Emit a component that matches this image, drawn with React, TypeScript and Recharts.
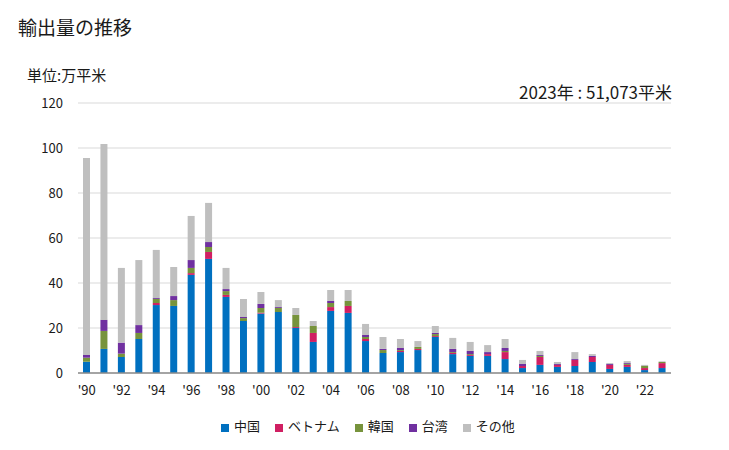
import React from 'react';
import { BarChart, Bar, XAxis, YAxis, CartesianGrid } from 'recharts';

const years = [1990,1991,1992,1993,1994,1995,1996,1997,1998,1999,2000,2001,2002,2003,2004,2005,2006,2007,2008,2009,2010,2011,2012,2013,2014,2015,2016,2017,2018,2019,2020,2021,2022,2023];
const china =   [5.0,10.7,7.1,15.1,30.2,29.8,43.6,50.7,33.8,23.1,26.4,27.1,20.0,13.8,27.6,26.7,14.2,8.9,9.3,10.2,16.0,8.4,7.6,7.6,6.2,2.2,3.6,2.7,3.1,4.9,1.8,2.7,1.3,2.2];
const vietnam = [0,0,0,0,0.9,0,0.8,3.1,0.9,0,0.4,0,0.4,4.0,1.7,3.1,0.9,0,0.5,0.5,0.4,0.5,0.4,0.8,3.1,0.9,3.5,0.9,2.7,2.2,1.8,0.9,0.9,2.2];
const korea =   [1.8,8.0,1.5,2.7,1.8,2.6,2.3,2.2,1.7,1.3,2.1,1.8,5.4,3.1,1.8,2.2,0.9,1.3,0.4,0.9,0.9,0.4,0.4,0,0.5,0,0.5,0,0,0,0,0.4,0.9,0.5];
const taiwan =  [1.2,4.9,4.9,3.5,0.4,1.8,3.5,2.2,0.9,0.5,1.8,0.4,0,0,0.9,0,0.9,0.5,0.9,0,0.5,1.4,1.4,0.9,1.3,0.9,0.4,0.4,0.4,0.5,0.4,0.4,0,0];
const others =  [87.6,78.2,33.2,28.9,21.4,12.9,19.6,17.4,9.4,8.0,5.3,3.1,3.1,2.2,4.9,4.9,4.9,5.3,4.0,2.6,3.1,4.9,4.0,3.1,4.0,1.8,1.8,0.9,3.1,0.8,0.4,0.9,0.5,0.3];
const yTicks = [0,20,40,60,80,100,120];

const seriesNames = ['中国','ベトナム','韓国','台湾','その他'];
const seriesKeys = ['china','vietnam','korea','taiwan','others'];
const colors = ['#0070c0','#d01f62','#77933c','#7030a0','#bfbfbf'];

const data = years.map((y, i) => ({
  year: y,
  china: china[i],
  vietnam: vietnam[i],
  korea: korea[i],
  taiwan: taiwan[i],
  others: others[i],
}));

const FONT = '"Noto Sans CJK JP", "Noto Sans", sans-serif';

export default function App() {
  return (
    <div style={{ position: 'absolute', left: 0, top: 0, width: 729, height: 450, background: '#fff', fontFamily: FONT, color: '#1a1a1a' }}>
      <div style={{ position: 'absolute', left: 18, top: 13, fontSize: 19, lineHeight: '28px' }}>輸出量の推移</div>
      <div style={{ position: 'absolute', left: 27, top: 64, fontSize: 15, lineHeight: '22px' }}>単位:万平米</div>
      <div style={{ position: 'absolute', right: 57, top: 80, fontSize: 17, lineHeight: '24px' }}>2023年 : 51,073平米</div>
      <BarChart
        width={729}
        height={450}
        data={data}
        margin={{ top: 103, right: 58, left: 0, bottom: 47 }}
        style={{ position: 'absolute', left: 0, top: 0 }}
      >
        <CartesianGrid vertical={false} stroke="#d9d9d9" strokeWidth={1} />
        <XAxis
          dataKey="year"
          interval={0}
          tickFormatter={(v: number) => (v % 2 === 0 ? "'" + String(v).slice(2) : '')}
          tickLine={false}
          tickSize={0}
          tickMargin={13}
          axisLine={{ stroke: '#8c8c8c', strokeWidth: 1.5 }}
          tick={{ fill: '#1a1a1a', fontSize: 13, fontFamily: FONT }}
          height={30}
        />
        <YAxis
          domain={[0, 120]}
          ticks={yTicks}
          width={78}
          axisLine={false}
          tickLine={false}
          tickSize={0}
          tickMargin={15}
          tick={{ fill: '#1a1a1a', fontSize: 13, fontFamily: FONT }}
        />
        {seriesKeys.map((k, i) => (
          <Bar key={k} dataKey={k} name={seriesNames[i]} stackId="a" fill={colors[i]} barSize={7} isAnimationActive={false} />
        ))}
      </BarChart>
      <div style={{ position: 'absolute', left: 221, top: 416, display: 'flex', alignItems: 'center', fontSize: 13, lineHeight: '20px' }}>
        {seriesNames.map((n, i) => (
          <div key={n} style={{ display: 'flex', alignItems: 'center', marginRight: 15 }}>
            <span style={{ display: 'inline-block', width: 8, height: 8, background: colors[i], marginRight: 5, marginTop: 3 }} />
            <span>{n}</span>
          </div>
        ))}
      </div>
    </div>
  );
}
